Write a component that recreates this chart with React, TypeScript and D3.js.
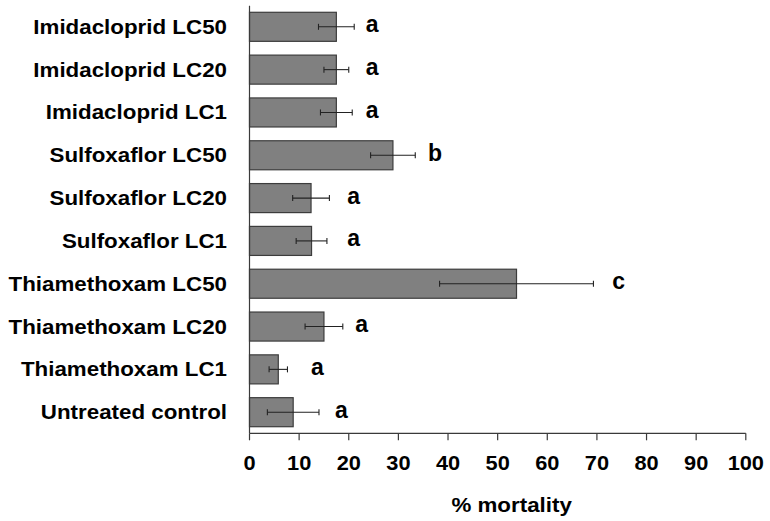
import React from "react";
import * as d3 from "d3";

const categories = [
  "Imidacloprid LC50",
  "Imidacloprid LC20",
  "Imidacloprid LC1",
  "Sulfoxaflor LC50",
  "Sulfoxaflor LC20",
  "Sulfoxaflor LC1",
  "Thiamethoxam LC50",
  "Thiamethoxam LC20",
  "Thiamethoxam LC1",
  "Untreated control",
];
const means = [17.5, 17.5, 17.5, 28.9, 12.4, 12.5, 53.8, 15.0, 5.8, 8.8];
const errors = [3.6, 2.5, 3.2, 4.5, 3.7, 3.1, 15.5, 3.8, 1.85, 5.2];
const letters = ["a", "a", "a", "b", "a", "a", "c", "a", "a", "a"];
const letterPos = [24.7, 24.7, 24.7, 37.4, 21, 21, 74.4, 22.6, 13.7, 18.5];
const xTicks = [0, 10, 20, 30, 40, 50, 60, 70, 80, 90, 100];
const xTitle = "% mortality";

const W = 770;
const H = 521;
const FONT = "'Liberation Sans', Arial, Helvetica, sans-serif";
const AXIS = "#3a3a3a";

export default function App() {
  const x = d3.scaleLinear().domain([0, 100]).range([249.5, 745.8]);
  const y = d3
    .scaleBand<string>()
    .domain(categories)
    .range([5.7, 433.3])
    .paddingInner(0.322)
    .paddingOuter(0.154);
  const bw = y.bandwidth();
  const axisY = 433.3;
  const stretch = 1.09;

  return (
    <svg
      width={W}
      height={H}
      style={{ position: "absolute", left: 0, top: 0, background: "#fff" }}
      fontFamily={FONT}
    >
      {/* bars */}
      {categories.map((c, i) => (
        <rect
          key={c}
          x={x(0)}
          y={y(c)!}
          width={x(means[i]) - x(0)}
          height={bw}
          fill="#808080"
          stroke="#3c3c3c"
          strokeWidth={1.2}
        />
      ))}
      {/* error bars */}
      {categories.map((c, i) => {
        const cy = y(c)! + bw / 2;
        const x1 = x(means[i] - errors[i]);
        const x2 = x(means[i] + errors[i]);
        return (
          <g key={"e" + c} stroke="#222" strokeWidth={1.1}>
            <line x1={x1} x2={x2} y1={cy} y2={cy} />
            <line x1={x1} x2={x1} y1={cy - 3} y2={cy + 3} />
            <line x1={x2} x2={x2} y1={cy - 3} y2={cy + 3} />
          </g>
        );
      })}
      {/* letters */}
      {categories.map((c, i) => (
        <text
          key={"l" + c}
          x={x(letterPos[i])}
          y={y(c)! + bw / 2 + 5.5}
          textAnchor="middle"
          fontWeight="bold"
          fontSize={23}
          fill="#000"
        >
          {letters[i]}
        </text>
      ))}
      {/* y axis */}
      <line x1={x(0)} x2={x(0)} y1={5.7} y2={axisY} stroke={AXIS} strokeWidth={1.2} />
      {/* category labels */}
      {categories.map((c) => (
        <text
          key={"c" + c}
          transform={`translate(227, ${y(c)! + bw / 2 + 7}) scale(${stretch},1)`}
          textAnchor="end"
          fontWeight="bold"
          fontSize={20.5}
          fill="#000"
        >
          {c}
        </text>
      ))}
      {/* x axis */}
      <line x1={x(0)} x2={x(100)} y1={axisY} y2={axisY} stroke={AXIS} strokeWidth={1.2} />
      {xTicks.map((t) => (
        <g key={"t" + t}>
          <line x1={x(t)} x2={x(t)} y1={axisY} y2={axisY + 7} stroke={AXIS} strokeWidth={1.2} />
          <text
            transform={`translate(${x(t)}, 469.5) scale(${stretch},1)`}
            textAnchor="middle"
            fontWeight="bold"
            fontSize={20}
            fill="#000"
          >
            {t}
          </text>
        </g>
      ))}
      <text
        transform={`translate(${x(50) + 14}, 511.5) scale(${stretch},1)`}
        textAnchor="middle"
        fontWeight="bold"
        fontSize={20.5}
        fill="#000"
      >
        {xTitle}
      </text>
    </svg>
  );
}
